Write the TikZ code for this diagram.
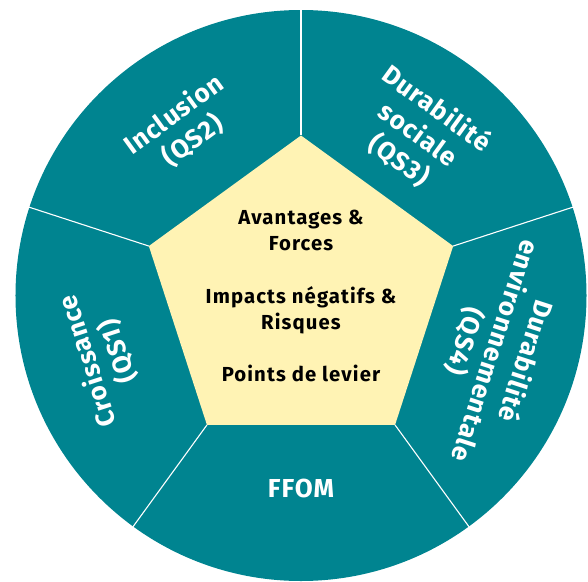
\documentclass[tikz,border=0pt]{standalone}
\usepackage{fontspec}
\setmainfont{Fira Sans}
\newfontfamily\wfont[LetterSpace=4]{Fira Sans}
\newfontfamily\bfontfam[LetterSpace=5.5]{Fira Sans}
\definecolor{euteal}{RGB}{0,132,144}
\definecolor{pentayellow}{RGB}{255,243,180}
\tikzset{
  divider/.style={draw=white, line width=1.1pt},
  wlabel/.style={text=white, font=\wfont\fontsize{26}{32}\selectfont\bfseries, align=center, inner sep=0pt},
  blabel/.style={text=black, font=\bfontfam\fontsize{20.3}{26.3}\selectfont\bfseries, align=center, inner sep=0pt}
}
\begin{document}
\begin{tikzpicture}[x=1pt,y=1pt]
\useasboundingbox (-301,-285.5) rectangle (287,295.5);
\fill[euteal] (0,0) circle (285.5);
\foreach \a [count=\i] in {90,162,234,306,18} {
  \coordinate (p\i) at (\a:160);
  \coordinate (q\i) at (\a:286);
}
\fill[pentayellow] (p1) -- (p2) -- (p3) -- (p4) -- (p5) -- cycle;
\foreach \i in {1,...,5} { \draw[divider] (p\i) -- (q\i); }
\node[wlabel, rotate=36] (qs2) at (125:205) {Inclusion\\(QS2)};
\node[wlabel, rotate=-36] (qs3) at (54:199) {Durabilité\\sociale\\(QS3)};
\node[wlabel, rotate=-108] (qs4) at (-16:202) {Durabilité\\environnementale\\(QS4)};
\node[wlabel, rotate=108] (qs1) at (197:207) {Croissance\\(QS1)};
\node[wlabel] (ffom) at (270:193) {FFOM};
\node[blabel] (center) at (0,-0.5) {Avantages \&\\Forces\\[26.3pt]Impacts négatifs \&\\Risques\\[26.3pt]Points de levier};
\end{tikzpicture}
\end{document}
